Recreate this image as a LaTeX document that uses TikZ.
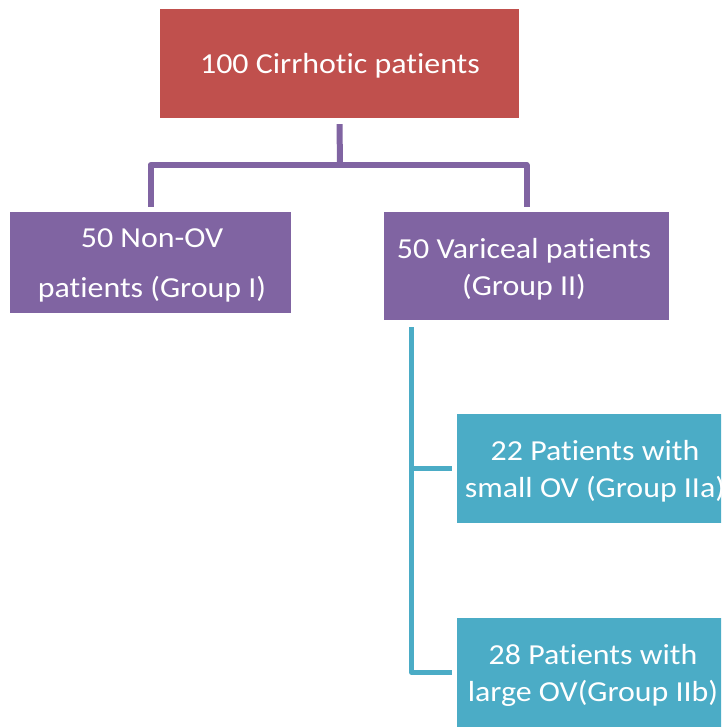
\documentclass[tikz,border=0pt]{standalone}
\usepackage{fontspec}
\setmainfont{Carlito}[FakeStretch=1.1, Ligatures={NoCommon}]
\definecolor{cred}{HTML}{C0504D}
\definecolor{cpurple}{HTML}{8064A2}
\definecolor{cteal}{HTML}{4BACC6}
\tikzset{
  box/.style={rectangle, inner sep=0pt, text=white, align=center,
    font=\fontsize{29}{37}\selectfont},
  pline/.style={draw=cpurple, line width=6pt, line join=round},
  tline/.style={draw=cteal, line width=5pt, line join=round},
  lbl/.style={text=white, align=center, font=\fontsize{29}{37}\selectfont, inner sep=0pt}
}
\begin{document}
\begin{tikzpicture}[x=1pt,y=-1pt]
\useasboundingbox (0,0) rectangle (721,727);
\clip (0,0) rectangle (721,727);
\node[box, fill=cred, minimum width=359pt, minimum height=109pt] (top) at (339.5,63.5) {};
\node[lbl] (toptext) at (340,66) {100 Cirrhotic patients};
\node[box, fill=cpurple, minimum width=281pt, minimum height=101pt] (left) at (150.5,262.5) {};
\node[lbl] (lefttext) at (152,265) {50 Non-OV\\[13pt]patients (Group I)};
\node[box, fill=cpurple, minimum width=285pt, minimum height=108pt] (right) at (526.5,266) {};
\node[lbl] (righttext) at (524,269) {50 Variceal patients\\(Group II)};
\node[box, fill=cteal, minimum width=274pt, minimum height=109pt] (iia) at (594,468.5) {};
\node[lbl] (iiatext) at (595,471) {22 Patients with\\small OV (Group IIa)};
\node[box, fill=cteal, minimum width=274pt, minimum height=109pt] (iib) at (594,672.5) {};
\node[lbl] (iibtext) at (593,675) {28 Patients with\\large OV(Group IIb)};
\coordinate (bus) at (340,165);
\draw[pline] ([yshift=-6pt]top.south) -- (bus);
\draw[pline] ([yshift=5pt]left.north) |- (bus) -| ([yshift=5pt]right.north);
\coordinate (tt) at ([xshift=28pt,yshift=-7pt]right.south west);
\draw[tline] (tt) |- ([xshift=-5pt]iia.west);
\draw[tline] (tt) |- ([xshift=-5pt]iib.west);
\end{tikzpicture}
\end{document}
